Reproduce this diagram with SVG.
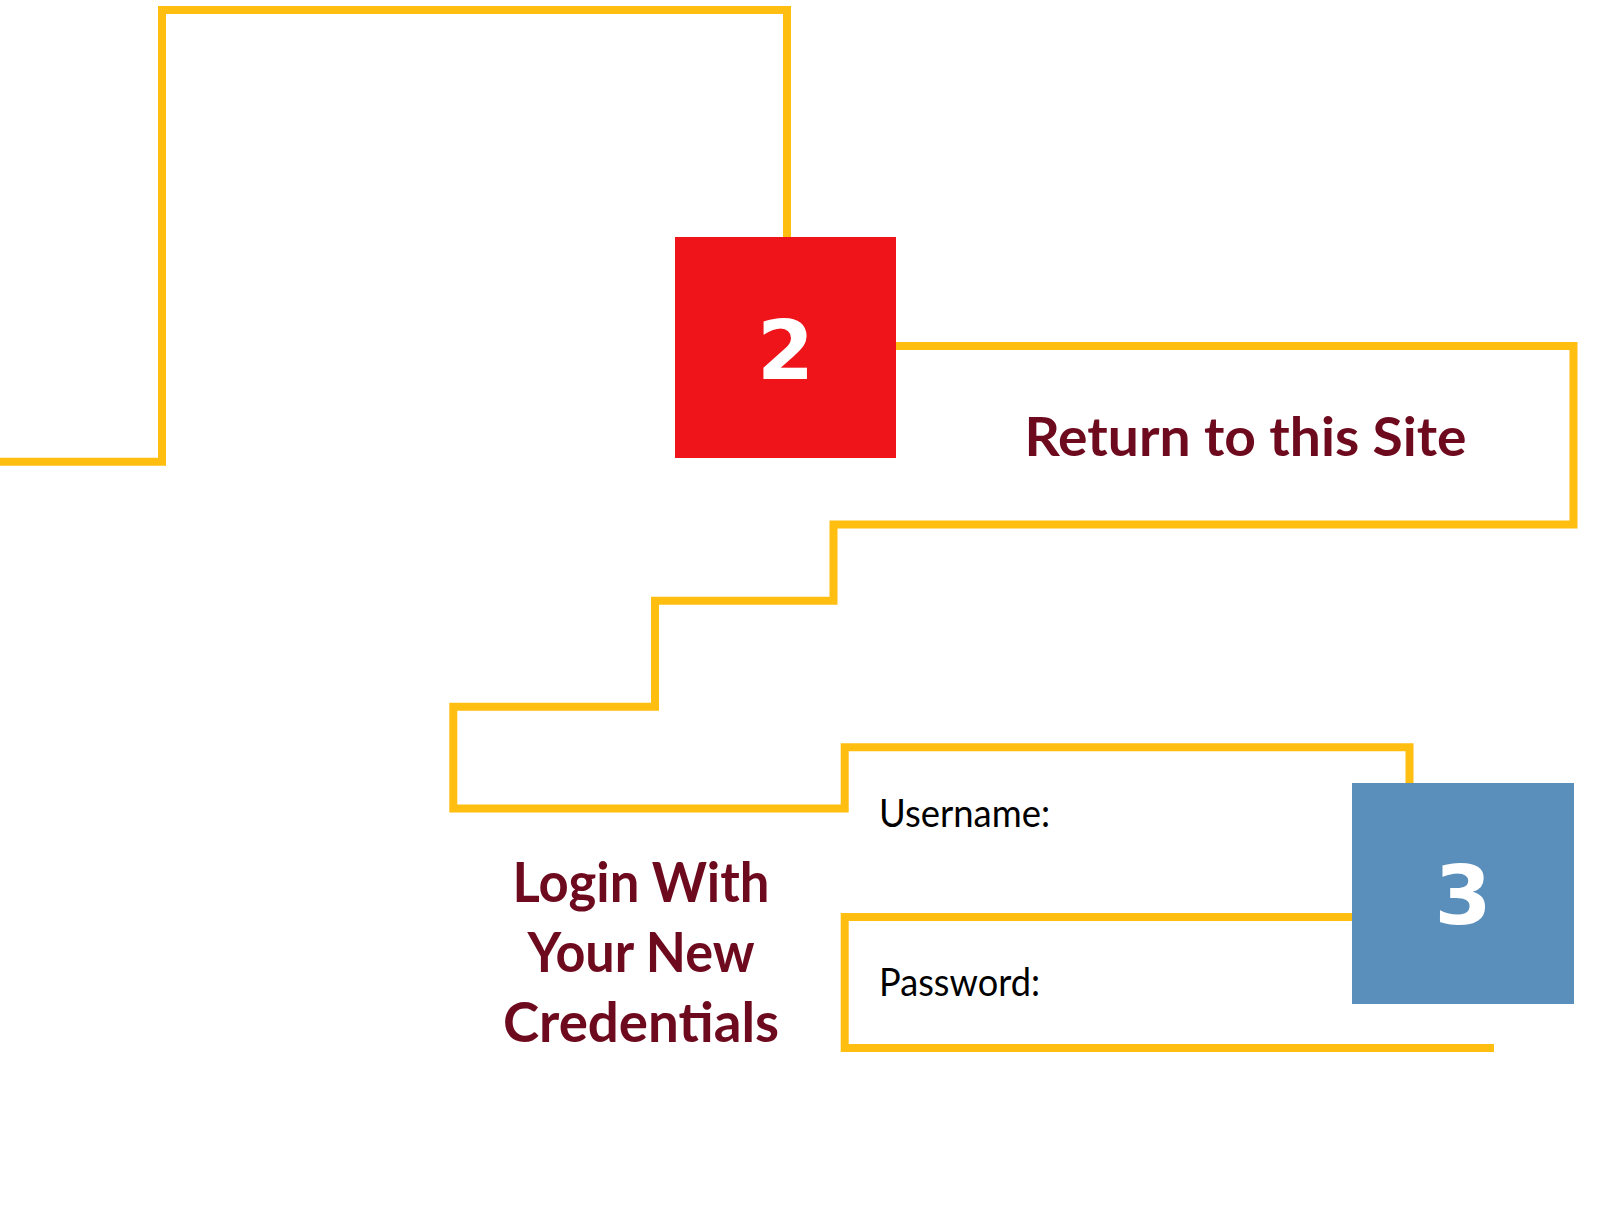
<svg xmlns="http://www.w3.org/2000/svg" width="1600" height="1217" viewBox="0 0 1600 1217">
<style>
.wire{fill:none;stroke:#FFBE10;stroke-width:8;stroke-linejoin:miter;stroke-linecap:butt}
.num{font-family:"DejaVu Sans",sans-serif;font-weight:bold;font-size:82px;fill:#FFFFFF;text-anchor:middle}
.title{font-family:Lato,"Liberation Sans",sans-serif;font-weight:bold;fill:#6E0A1E;text-anchor:middle}
.field{font-family:Lato,"Liberation Sans",sans-serif;font-size:38px;fill:#000000}
</style>
<rect x="0" y="0" width="1600" height="1217" fill="#FFFFFF"/>
<g id="connectors">
<path class="wire" d="M0,461.7 H162 V10 H787 V237"/>
<path class="wire" d="M896,346 H1573.5 V524.5 H833.5 V600.7 H655 V706.7 H453.3 V808.5 H844.7 V747.3 H1409.5 V783"/>
<path class="wire" d="M1352,917 H844.7 V1048 H1494"/>
</g>
<g id="step2">
<rect x="675" y="237" width="221" height="221" fill="#EE141A"/>
<text class="num" x="785.5" y="379">2</text>
</g>
<g id="return-label">
<text class="title" x="1245.5" y="456" font-size="54" textLength="442" lengthAdjust="spacingAndGlyphs">Return to this Site</text>
</g>
<g id="login-label">
<text class="title" x="641" y="901.7" font-size="55" textLength="257" lengthAdjust="spacingAndGlyphs">Login With</text>
<text class="title" x="641" y="971.7" font-size="55" textLength="227" lengthAdjust="spacingAndGlyphs">Your New</text>
<text class="title" x="641" y="1042.3" font-size="55" textLength="276" lengthAdjust="spacingAndGlyphs">Credentials</text>
</g>
<g id="username">
<text class="field" x="879" y="826.7" textLength="171" lengthAdjust="spacingAndGlyphs">Username:</text>
</g>
<g id="password">
<text class="field" x="879" y="995.7" textLength="161" lengthAdjust="spacingAndGlyphs">Password:</text>
</g>
<g id="step3">
<rect x="1352" y="783" width="222" height="221" fill="#5A8FBB"/>
<text class="num" x="1463" y="924">3</text>
</g>
</svg>
